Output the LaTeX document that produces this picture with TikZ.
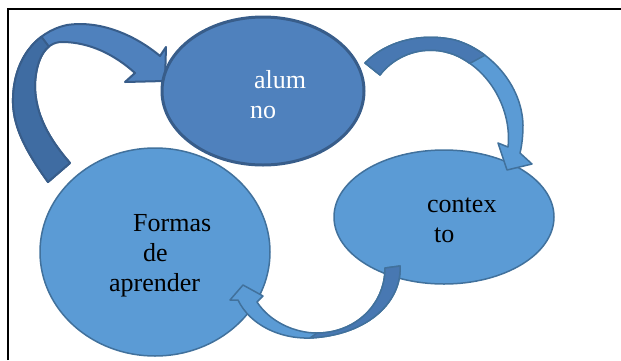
\documentclass[tikz,border=0pt]{standalone}
\usepackage{fontspec}
\setmainfont{Liberation Serif}
\usetikzlibrary{shapes.geometric}
\definecolor{darkfill}{HTML}{4F81BD}
\definecolor{darkline}{HTML}{385D8A}
\definecolor{lightfill}{HTML}{5B9BD5}
\definecolor{lightline}{HTML}{41719C}
\definecolor{twistdark}{HTML}{3F6CA2}
\definecolor{twistmid}{HTML}{4878B2}
\tikzset{
  bubble/.style={ellipse, inner sep=0pt, fill=lightfill, draw=lightline, line width=1.5pt},
  darkbubble/.style={ellipse, inner sep=0pt, fill=darkfill, draw=darkline, line width=3pt},
  lbl/.style={inner sep=0pt, anchor=base west, font=\fontsize{26}{30}\selectfont},
  bigarrow/.style={fill=darkfill, draw=darkline, line width=2pt, line join=round},
  bigtwist/.style={fill=twistdark, draw=darkline, line width=2pt, line join=round},
  lightarrow/.style={fill=lightfill, draw=lightline, line width=1.5pt, line join=round},
  lighttwist/.style={fill=twistmid, draw=lightline, line width=1.5pt, line join=round},
  frameline/.style={line width=2pt, draw=black}
}
\begin{document}
\begin{tikzpicture}[x=1pt,y=-1pt]
\useasboundingbox (0,0) rectangle (621,360);
% frame
\coordinate (fbl) at (8,360);
\coordinate (ftl) at (8,9);
\coordinate (ftr) at (621,9);
\draw[frameline] (fbl) -- (ftl) -- (ftr);
% ellipses
\node[bubble, minimum width=230pt, minimum height=208pt] (formas) at (155,252) {};
\node[bubble, minimum width=220pt, minimum height=134pt] (contexto) at (444,217) {};
% big arrow (formas -> alumno)
\path[bigarrow] (48,182) .. controls (25,150) and (12,125) .. (13,98)
  .. controls (14,60) and (35,32) .. (67,25)
  .. controls (100,20) and (135,35) .. (160,56)
  -- (166,47) -- (165,81) -- (125,82) -- (135,73)
  .. controls (115,55) and (90,42) .. (62,42)
  .. controls (45,42) and (36,60) .. (35,85)
  .. controls (35,115) and (50,140) .. (70,163) -- cycle;
\path[bigtwist] (48,182) .. controls (25,150) and (12,125) .. (13,98)
  .. controls (13.7,71.4) and (24.2,49.7) .. (41.4,36.7)
  -- (48.9,46.6) .. controls (40.3,53.4) and (35.7,67.5) .. (35,85)
  .. controls (35,115) and (50,140) .. (70,163) -- cycle;
\node[darkbubble, minimum width=202pt, minimum height=148pt] (alumno) at (263,91) {};
% arrow alumno -> contexto
\path[lightarrow] (365,63) .. controls (385,42) and (420,32) .. (455,40)
  .. controls (490,50) and (522,85) .. (523,125)
  .. controls (523,135) and (522,145) .. (520,153)
  -- (532,164) -- (507,170) -- (498,143) -- (508,147)
  .. controls (512,110) and (490,70) .. (455,55)
  .. controls (425,43) and (395,55) .. (380,75) -- cycle;
\path[lighttwist] (365,63) .. controls (385,42) and (420,32) .. (455,40)
  .. controls (465.5,43) and (475.7,48.25) .. (484.9,55.2)
  -- (469.8,63.4) .. controls (465.2,60.1) and (460.25,57.25) .. (455,55)
  .. controls (425,43) and (395,55) .. (380,75) -- cycle;
% arrow contexto -> formas
\path[lightarrow] (400,266) .. controls (402,300) and (370,335) .. (310,338)
  .. controls (280,339) and (250,325) .. (238,300)
  -- (230,300) -- (243,285) -- (263,296) -- (257,302)
  .. controls (270,322) and (295,333) .. (317,333)
  .. controls (355,333) and (385,305) .. (385,268) -- cycle;
\path[lighttwist] (400,266) .. controls (402,300) and (370,335) .. (310,338)
  -- (317,333) .. controls (355,333) and (385,305) .. (385,268) -- cycle;
% labels
\node[lbl, text=white] (t1) at (254,88) {alum};
\node[lbl, text=white] (t2) at (250,118) {no};
\node[lbl] (t3) at (133,231) {Formas};
\node[lbl] (t4) at (143,261) {de};
\node[lbl] (t5) at (109,291) {aprender};
\node[lbl] (t6) at (427,212) {contex};
\node[lbl] (t7) at (434,242) {to};
\end{tikzpicture}
\end{document}
